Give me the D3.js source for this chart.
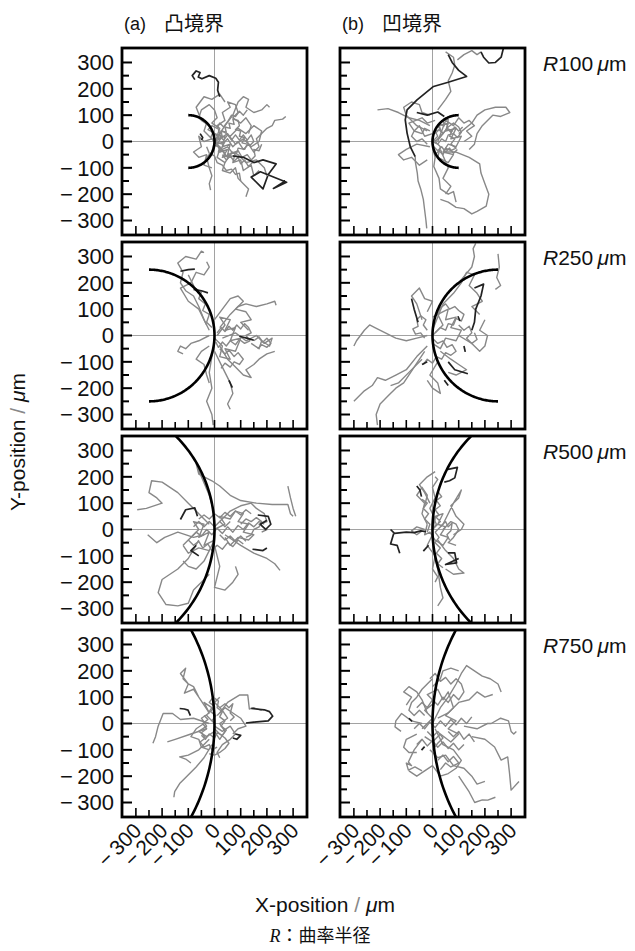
<!DOCTYPE html>
<html>
<head>
<meta charset="utf-8">
<script src="https://cdn.jsdelivr.net/npm/d3@7"></script>
<style>
  body { margin: 0; background: #fff; }
  svg { display: block; }
  text { font-family: "Liberation Sans", Arial, sans-serif; fill: #111; }
  .jp { font-family: "Noto Sans CJK JP", sans-serif; }
</style>
</head>
<body>
<div id="chart"></div>
<script>
// curvature radius of each row (um) and the two boundary types
const radii = [100, 250, 500, 750];
const columnLetters = ["(a)", "(b)"];
const columnNames = ["凸境界", "凹境界"];
const tickValues = [-300, -250, -200, -150, -100, -50, 0, 50, 100, 150, 200, 250, 300];
const labelValues = [-300, -200, -100, 0, 100, 200, 300];

// cell tracks, flat lists of x,y pairs in um
const a100Gray = [
  [0,0, 20,30, 10,60, 40,80, 30,110, 60,130, 50,150, 80,140, 90,110, 70,90, 100,70, 120,90, 140,60, 130,30],
  [0,0, -20,20, -40,40, -30,70, -60,90, -50,120, -20,140, 0,120, 10,90, -10,70, 20,50, 10,20],
  [0,0, 30,-10, 50,10, 70,-20, 90,0, 110,-30, 130,-10, 150,-40, 170,-20, 160,10, 180,30, 200,50, 220,60, 230,80, 260,85, 272,95],
  [0,0, 20,-30, 10,-60, 40,-80, 30,-110, 60,-120, 80,-100, 90,-140, 110,-160, 130,-180, 120,-210],
  [0,0, -10,-40, -30,-60, -20,-100, -10,-130, -20,-160, -15,-185],
  [10,10, 40,20, 30,-20, 60,-10, 50,-50, 80,-40, 70,-80, 100,-70, 110,-110, 140,-90, 150,-130, 170,-110],
  [0,0, 30,40, 60,20, 90,50, 120,30, 150,60, 180,40, 170,0, 140,-20, 110,10, 80,-10, 50,30, 20,10],
  [0,0, 20,10, 0,30, 30,20, 10,-10, 40,0, 20,-40, 50,-30, 30,-60, 60,-50, 40,-80],
  [-10,10, -40,0, -60,20, -50,-20, -80,-40, -60,-60, -30,-50, -40,-90, -10,-100],
  [0,0, 40,60, 70,100, 90,150, 110,170, 130,160, 120,130, 150,110, 180,120, 200,140, 210,130],
  [0,0, 50,-60, 90,-50, 120,-80, 160,-70, 190,-100, 200,-130],
  [-20,60, -50,80, -70,130, -40,170, -10,160, 20,180, 40,150],
  [5,5, 15,25, 30,15, 25,40, 45,35, 40,55, 60,50, 55,70, 75,65, 70,85, 90,80, 95,60, 80,45, 100,40, 95,20, 115,15, 105,-5, 125,-10, 115,-30, 90,-25, 85,-45, 65,-40, 60,-60, 40,-55, 35,-35, 15,-40, 20,-20, 0,-15],
  [0,0, -15,15, -5,35, -25,45, -10,60, 10,50, 20,70, 35,55, 50,75, 65,100, 80,95, 95,115, 110,100, 125,120],
  [10,-10, 30,-30, 50,-20, 70,-45, 90,-35, 105,-60, 125,-50, 140,-70, 155,-55, 150,-30, 170,-35, 180,-10],
  [-30,-20, -20,-45, 0,-55, 10,-80, 30,-90, 45,-110, 65,-105, 80,-125, 95,-120, 100,-150],
  [20,20, 35,5, 50,25, 65,5, 80,25, 95,5, 110,25, 125,5, 140,25, 150,0, 135,-15, 120,5],
  [30,-50, 45,-70, 60,-55, 75,-75, 90,-60, 100,-85, 115,-70, 130,-95, 145,-80]
];
const a100Dark = [
  [-75,235, -85,250, -70,268, -55,262, -62,245, -48,238, -20,250, 5,240, 15,225, 12,195, 20,170],
  [70,-55, 110,-60, 150,-80, 185,-70, 235,-85, 205,-125, 185,-180, 140,-135, 175,-115, 275,-155, 225,-178, 270,-150],
  [-55,30, -45,15, -50,5]
];

const b100Gray = [
  [10,0, 40,30, 20,60, 60,70, 50,40, 90,50, 70,10, 110,20, 90,-20, 60,-10, 40,-40, 80,-50, 60,-80, 20,-60, 30,-20, 0,10],
  [20,0, 50,80, 80,60, 100,90, 120,70, 140,80, 160,60, 130,40, 150,20, 120,0],
  [100,30, 150,70, 170,100, 200,120, 240,130, 280,130, 295,110, 260,95, 230,100, 210,80, 190,60, 170,30, 160,-10, 140,-30],
  [40,-40, 90,-40, 140,-60, 180,-85, 185,-120, 200,-160, 215,-200, 205,-245, 170,-265, 150,-275, 120,-255, 90,-250, 60,-230, 30,-220],
  [0,-20, 10,-60, 5,-95, 25,-140, 30,-180, 60,-200, 80,-190, 90,-230],
  [-66,-57, -65,-80, -58,-120, -55,-150, -45,-180, -35,-220, -30,-260, -25,-300, -22,-330],
  [-10,60, -50,80, -90,90, -130,110, -170,125, -210,120],
  [-20,40, -60,60, -100,100, -110,130, -80,150, -50,140, -40,110, -10,100],
  [20,120, 50,160, 70,190, 60,230, 75,260, 85,290, 80,320, 50,340],
  [185,340, 170,330, 150,345, 120,330, 95,310],
  [-10,-20, -60,-10, -100,-30, -130,-50, -110,-70, -80,-60, -50,-90, -20,-70],
  [0,30, -30,20, -50,60, -70,40, -90,70, -40,90, -20,70, 10,80],
  [30,-30, 60,-100, 40,-140, 70,-170, 50,-200],
  [5,5, 20,20, 10,40, 30,45, 25,65, 45,60, 40,80, 60,85, 55,50, 75,40, 65,20, 85,10, 70,-10, 90,-25, 70,-35, 50,-25, 40,-50, 25,-35, 10,-50],
  [0,0, 20,-10, 35,10, 50,0, 60,25, 80,30, 95,15, 110,35, 100,55, 80,70, 60,55, 40,30, 25,10],
  [-20,-10, -40,10, -60,0, -80,20, -70,40, -40,30, -30,50, -10,40],
  [10,30, 25,45, 40,30, 55,50, 70,35, 85,55, 100,40, 115,55],
  [5,-20, 20,-35, 35,-20, 50,-40, 65,-25, 80,-45, 95,-30]
];
const b100Dark = [
  [272,360, 262,320, 240,300, 215,298, 195,320, 185,340],
  [60,330, 75,300, 100,270, 130,247, 60,225, 4,209, -59,158, -97,120, -104,82, -97,32, -85,-19, -66,-57],
  [-60,110, -20,100, 20,112, 45,95]
];

const a250Gray = [
  [-20,20, -40,60, -60,110, -80,150, -110,170, -130,200, -120,240, -140,275, -110,300, -70,290, -50,320, -40,315],
  [-30,40, -60,100, -100,130, -130,180, -90,200, -70,240, -40,230, -20,260, -30,280],
  [20,30, 60,80, 90,110, 120,120, 160,110, 200,120, 230,130, 235,115],
  [30,-10, 80,10, 120,-20, 160,0, 190,-30, 220,-10, 210,-40, 180,-20, 170,-50, 140,-30],
  [0,-20, -10,-80, -20,-140, -10,-200, -30,-250, -10,-300, -5,-340],
  [20,-40, 50,-90, 80,-120, 110,-150, 140,-160, 120,-130, 150,-110, 170,-90, 200,-70, 230,-60],
  [-20,0, -60,-20, -90,-30, -110,-50, -130,-40, -140,-60, -120,-70],
  [10,0, 40,40, 20,70, 60,60, 40,20, 80,30, 60,-20, 100,-10, 80,-60, 40,-50, 60,-90, 20,-80, 30,-40, 0,-10],
  [0,60, 30,100, 60,140, 90,150, 110,130, 80,100, 120,90, 140,60, 100,50, 130,20],
  [0,-60, 40,-140, 60,-180, 70,-220, 50,-260, 60,-280],
  [-20,-40, -50,-60, -70,-90, -40,-110, -30,-150, -20,-180],
  [10,10, 25,30, 40,15, 55,35, 70,20, 85,40, 100,25, 115,45, 130,30, 140,10, 120,0, 135,-20, 115,-30, 95,-15, 80,-35, 60,-20, 45,-40, 30,-25, 15,-45, 5,-25],
  [20,-50, 40,-70, 55,-55, 75,-80, 90,-65, 110,-90, 95,-110, 75,-100, 60,-120, 40,-105, 25,-125],
  [-10,30, -30,50, -20,80, -45,95, -35,120, -60,140, -50,165, -75,180, -90,210, -100,230],
  [150,-20, 170,-5, 185,-25, 200,-10, 215,-30, 200,-45, 180,-35, 165,-50]
];
const a250Dark = [
  [-130,244, -100,250, -75,252],
  [-80,175, -50,170, -25,162],
  [95,-3, 130,-12, 150,-18],
  [55,-170, 68,-198]
];

const b250Gray = [
  [-20,0, -60,-10, -100,-20, -140,-10, -180,10, -220,30, -240,40, -260,20, -290,-20, -300,-40],
  [-20,-40, -60,-80, -100,-130, -140,-150, -180,-170, -210,-160, -230,-190, -260,-210, -300,-250],
  [-30,-60, -70,-120, -110,-180, -140,-200, -170,-230, -200,-260, -215,-300, -210,-340],
  [-40,-90, -90,-140, -130,-180, -160,-190],
  [100,200, 150,260, 160,300, 155,330, 165,350],
  [250,310, 255,260, 245,220, 260,190, 240,175],
  [0,0, 40,40, 20,80, 60,100, 50,60, 90,70, 70,30, 110,20, 90,-20, 50,-10, 30,-50, 0,-30],
  [0,20, 40,120, 80,160, 110,200, 130,240, 160,230, 140,190, 170,160, 190,130, 150,110, 180,80],
  [-40,60, -60,120, -80,150, -50,180, -30,140, 0,130, -20,90],
  [0,-40, 20,-100, -10,-150, 20,-180, 30,-220, 0,-200, -20,-170],
  [100,0, 150,-30, 180,-60, 200,-40, 210,0, 180,20, 200,60],
  [30,-60, 70,-90, 100,-110, 130,-130, 90,-150, 60,-140],
  [10,10, 30,30, 50,20, 60,45, 80,40, 90,65, 110,55, 120,80, 100,95, 85,110, 65,100, 50,120, 30,105, 20,80, 0,70],
  [0,-10, 20,-30, 40,-20, 55,-45, 75,-35, 90,-60, 70,-75, 50,-65, 35,-90, 15,-80, 0,-105, -20,-90, -35,-110],
  [-20,20, -35,40, -25,60, -45,75, -60,60, -55,35, -75,25, -65,5, -45,10, -30,-10],
  [100,40, 120,20, 140,35, 150,10, 130,-10, 150,-30, 170,-15, 160,10]
];
const b250Dark = [
  [-80,140, -70,100, -55,50],
  [160,180, 195,195, 185,150, 165,100, 160,50, 150,20],
  [97,73, 105,55],
  [120,-40, 125,-62],
  [60,-100, 85,-130, 135,-145],
  [-40,-110, -20,-100],
  [45,-170, 60,-190]
];

const a500Gray = [
  [-20,20, -60,60, -100,100, -140,140, -200,180, -240,185, -250,140, -220,120, -200,100, -260,80, -295,75],
  [0,60, -20,130, -50,200, -70,250, -60,210, -10,185, 20,165, 60,130, 100,110, 160,100, 220,95, 280,95, 290,60, 300,50],
  [280,165, 290,120, 300,80, 310,50],
  [-40,-20, -80,-30, -140,-10, -190,-30, -220,-50, -255,-20],
  [-60,-40, -100,-110, -140,-150, -200,-190, -215,-240, -185,-285, -140,-290, -100,-280, -80,-230, -50,-200, -20,-170],
  [0,-60, 20,-140, 0,-220, 40,-230, 70,-200, 90,-170, 80,-140],
  [40,-20, 100,-60, 150,-90, 200,-110, 230,-130, 250,-155],
  [-100,-40, -60,0, -80,30, -40,20, -60,-30, -20,-10, -40,-60, 0,-40, -20,-80, -60,-70, -100,-90, -120,-60],
  [0,0, 40,20, 20,50, 60,40, 80,70, 110,60, 90,30, 130,20, 110,-10, 150,-20, 130,-40, 90,-30, 60,-60, 40,-30],
  [20,30, 60,70, 100,90, 140,100, 160,80, 190,60, 200,30, 170,20, 200,0, 180,-10],
  [-20,-80, -40,-120, -70,-150, -100,-140, -120,-120],
  [-90,-30, -70,-10, -50,-25, -30,0, -10,-20, 10,5, 30,-15, 50,10, 70,-10, 90,15, 110,0, 130,25, 150,10, 170,30, 190,20],
  [-120,-60, -100,-40, -80,-60, -60,-45, -45,-70, -25,-55, -10,-80, 10,-60, 30,-75, 50,-50, 70,-65, 90,-40, 110,-55],
  [-60,40, -40,55, -20,40, 0,60, 20,45, 40,65, 60,50, 80,70, 100,55, 120,75, 140,60],
  [100,20, 120,40, 140,30, 160,45, 180,30, 170,10, 150,0, 140,-20, 120,-30],
  [-80,10, -60,30, -40,10, -20,30, 0,10, 20,30, 40,10, 60,30],
  [20,-20, 40,-40, 60,-25, 80,-45, 100,-25, 120,-45]
];
const a500Dark = [
  [-130,38, -110,75, -75,82, -65,50],
  [165,55, 205,50, 215,20, 195,0, 175,20, 200,35],
  [145,-75, 185,-80, 200,-70],
  [-70,-60, -90,-80, -60,-100]
];

const b500Gray = [
  [0,0, 10,40, -10,80, 10,120, 0,160, 20,190, 10,200],
  [-20,20, -40,60, -30,100, -60,130, -40,160, -20,130, -30,90],
  [10,-10, 40,20, 60,60, 80,100, 110,150, 100,120, 70,90, 90,50, 120,20, 110,0, 80,-20],
  [0,-20, -20,-60, 10,-100, 0,-150, 20,-180, 10,-200],
  [20,-40, 50,-80, 80,-110, 100,-150, 120,-165, 80,-170, 50,-150],
  [0,-60, 20,-150, 30,-220, 40,-260, 20,-290],
  [0,0, 30,30, 10,50, 40,60, 20,20, 50,10, 30,-20, 60,-30, 40,-60, 10,-40, -10,-10, -30,-20, -20,20],
  [-30,0, -60,10, -80,-5, -60,-20, -40,-5],
  [40,0, 70,30, 90,20, 100,0, 80,-30, 60,-50, 90,-60],
  [-10,100, -30,140, -50,170, -20,200, 10,220],
  [0,0, 15,20, 5,40, 25,55, 10,75, 30,90, 15,110, 35,125, 20,145],
  [10,-10, 25,-30, 10,-50, 30,-70, 15,-90, 35,-110, 20,-130, 40,-145],
  [-20,-10, -10,20, -30,40, -15,60, -35,80, -20,100, -40,115],
  [30,10, 50,30, 60,10, 75,25, 70,-5, 55,-20, 65,-40]
];
const b500Dark = [
  [-160,0, -145,-15, -100,-10, -70,-12, -45,-5, -25,-8],
  [-148,-15, -160,-55, -135,-60, -125,-90],
  [59,228, 95,236, 85,196, 65,185, 45,180],
  [-60,165, -48,150, -42,125],
  [59,-89, 85,-89, 92,-127, 50,-133, 100,-110],
  [-35,-82, -15,-60]
];

const a750Gray = [
  [-20,40, -60,100, -80,140, -100,150, -120,170, -110,210, -130,190, -100,150, -115,115, -80,130, -60,100],
  [20,40, 50,80, 95,108, 127,108, 133,55, 148,60, 180,50],
  [-20,0, -80,20, -130,15, -160,38, -196,38, -215,-10, -225,-50, -235,-75],
  [-30,-20, -90,-40, -150,-60, -180,-70],
  [-20,-60, -60,-100, -100,-120, -133,-127, -110,-135, -90,-150],
  [-10,-80, -40,-130, -70,-165, -108,-203, -133,-228, -152,-259, -155,-280],
  [0,0, -30,30, -10,60, -40,80, -20,40, -50,20, -30,-10, -60,-30, -30,-50, 0,-30, 20,-60, 40,-30, 20,0, 50,20, 30,50, 0,80, 20,100],
  [0,-10, 30,-30, 60,-10, 80,-40, 60,-60, 30,-80, 10,-110, 20,-130],
  [-40,0, -70,-20, -90,-50, -60,-60, -50,-90, -20,-100],
  [10,30, 40,60, 70,40, 100,20, 120,-10, 90,-20, 70,-40],
  [-10,10, 5,30, -15,45, 0,65, -20,80, -5,100, 15,85, 10,60, 30,45, 20,25, 40,10, 25,-10, 45,-25, 30,-45, 10,-35, 0,-55, -20,-40, -35,-60, -50,-45],
  [-40,30, -25,15, -45,0, -30,-20, -50,-35, -35,-55, -55,-70, -40,-90, -20,-80, -10,-100, 10,-90],
  [20,60, 40,75, 55,60, 70,75, 60,40, 75,25, 60,10],
  [0,-20, 20,-40, 40,-55, 55,-75, 40,-95, 20,-110, 0,-120, -20,-115]
];
const a750Dark = [
  [140,57, 190,52, 210,45, 222,28, 205,10, 150,5, 120,2],
  [-133,57, -115,55, -101,51, -92,30],
  [80,-40, 100,-45, 85,-60, 70,-55]
];

const b750Gray = [
  [0,0, 30,60, 60,100, 90,150, 110,190, 130,220, 160,200, 190,180, 220,170, 250,150, 262,120],
  [-20,40, -40,90, -60,120, -90,140, -110,120, -80,100, -100,70],
  [20,20, 60,40, 100,80, 140,90, 170,120, 200,100, 230,110],
  [-40,-20, 0,20, -30,50, 10,80, -20,110, 20,130, 40,90, 60,120, 80,60, 50,30, 90,10, 60,-20, 100,-40, 70,-70, 30,-40, 0,-70, -30,-50],
  [10,-20, 40,-80, 80,-100, 110,-140, 90,-170, 60,-190, 30,-200, 0,-160, -30,-180, -60,-200, -90,-180],
  [120,-10, 170,-20, 210,0, 224,0, 260,20, 290,10, 300,-30, 310,-40, 320,-30],
  [150,-50, 200,-60, 237,-89, 262,-139, 287,-127, 294,-190, 300,-253, 330,-220],
  [100,-200, 140,-260, 161,-300, 190,-290, 211,-291, 240,-280],
  [-40,0, -80,10, -118,38, -140,10, -143,-13, -120,-30],
  [-40,-60, -70,-100, -92,-146, -80,-160, -100,-150, -92,-177, -67,-165, -40,-180],
  [-60,-40, -100,-60, -110,-90, -90,-110, -60,-110],
  [0,140, 30,170, 40,200, 70,210, 100,200],
  [-10,-100, 20,-130, 50,-120, 80,-160, 120,-170, 150,-200, 170,-230, 200,-220],
  [-60,60, -40,80, -20,60, 0,90, 20,70, 40,100, 60,80, 80,110, 100,90, 120,120, 110,150, 90,170, 70,150, 50,175, 30,160, 10,190, -10,170],
  [-70,-20, -50,0, -30,-20, -10,5, 10,-15, 30,10, 50,-10, 70,15, 90,-5, 110,20, 130,0, 150,25],
  [-60,-80, -40,-60, -20,-85, 0,-65, 20,-90, 40,-70, 60,-95, 80,-75, 100,-100, 120,-80],
  [-30,30, -50,50, -70,30, -90,50, -80,80, -60,100, -40,130, -20,150, 0,170],
  [20,-140, 40,-120, 60,-145, 80,-125, 100,-150, 70,-165, 50,-150, 30,-175],
  [60,-30, 80,-50, 100,-30, 120,-60, 140,-40, 160,-70],
  [-20,-30, 0,-50, 20,-30, 40,-55, 20,-75, 0,-100]
];
const b750Dark = [
  [-42,-101, -30,-88],
  [-90,20, -78,8]
];

const panelTracks = [
  [[a100Gray, a100Dark], [b100Gray, b100Dark]],
  [[a250Gray, a250Dark], [b250Gray, b250Dark]],
  [[a500Gray, a500Dark], [b500Gray, b500Dark]],
  [[a750Gray, a750Dark], [b750Gray, b750Dark]]
];

const width = 635, height = 951;
const colLeft = [122, 340];
const rowTop = [48, 242, 436, 630];
const pw = 185, ph = 187;

const x = d3.scaleLinear().domain([-353, 353]).range([0, pw]);
const y = d3.scaleLinear().domain([-355, 355]).range([ph, 0]);

const fmt = d => d < 0 ? "\u2212\u2009" + Math.abs(d) : String(d);

const pairs = flat => d3.range(0, flat.length, 2).map(i => [flat[i], flat[i + 1]]);
const line = d3.line().x(d => x(d[0])).y(d => y(d[1]));

const svg = d3.select("#chart").append("svg")
  .attr("width", width)
  .attr("height", height);

radii.forEach((R, ri) => {
  [0, 1].forEach(ci => {
    const g = svg.append("g")
      .attr("transform", `translate(${colLeft[ci]},${rowTop[ri]})`);
    const clipId = `clip-${ri}-${ci}`;
    g.append("clipPath").attr("id", clipId)
      .append("rect").attr("width", pw).attr("height", ph);

    const inner = g.append("g").attr("clip-path", `url(#${clipId})`);

    // crosshair through the origin
    inner.append("line")
      .attr("x1", x(0)).attr("x2", x(0)).attr("y1", 0).attr("y2", ph)
      .attr("stroke", "#8a8a8a").attr("stroke-width", 0.8);
    inner.append("line")
      .attr("x1", 0).attr("x2", pw).attr("y1", y(0)).attr("y2", y(0))
      .attr("stroke", "#8a8a8a").attr("stroke-width", 0.8);

    const [gray, dark] = panelTracks[ri][ci];
    inner.selectAll(".gtrack")
      .data(gray.map(pairs))
      .join("path")
      .attr("class", "gtrack")
      .attr("d", line)
      .attr("fill", "none")
      .attr("stroke", "#888")
      .attr("stroke-width", 1.4)
      .attr("stroke-linejoin", "round");
    inner.selectAll(".dtrack")
      .data(dark.map(pairs))
      .join("path")
      .attr("class", "dtrack")
      .attr("d", line)
      .attr("fill", "none")
      .attr("stroke", "#222")
      .attr("stroke-width", 1.7)
      .attr("stroke-linejoin", "round");

    // boundary: circle of radius R, centre at (-R,0) for convex, (R,0) for concave
    const sign = ci === 0 ? -1 : 1;
    const angles = d3.range(-90, 90.5, 1).map(a => a * Math.PI / 180);
    const arcPts = angles.map(t => [sign * R - sign * R * Math.cos(t), R * Math.sin(t)]);
    inner.append("path")
      .attr("d", line(arcPts))
      .attr("fill", "none")
      .attr("stroke", "#000")
      .attr("stroke-width", 2.6);

    // ticks on left and bottom, pointing inward
    g.selectAll(".ytick").data(tickValues).join("line")
      .attr("x1", 0).attr("x2", d => d % 100 === 0 ? 10 : 7)
      .attr("y1", d => y(d)).attr("y2", d => y(d))
      .attr("stroke", "#000").attr("stroke-width", 2);
    g.selectAll(".xtick").data(tickValues).join("line")
      .attr("y1", ph).attr("y2", d => ph - (d % 100 === 0 ? 9 : 7))
      .attr("x1", d => x(d)).attr("x2", d => x(d))
      .attr("stroke", "#000").attr("stroke-width", 1.6);

    g.append("rect")
      .attr("width", pw).attr("height", ph)
      .attr("fill", "none").attr("stroke", "#000").attr("stroke-width", 2.8);

    if (ci === 0) {
      g.selectAll(".ylab").data(labelValues).join("text")
        .attr("x", -8).attr("y", d => y(d))
        .attr("dy", "0.36em")
        .attr("text-anchor", "end")
        .attr("font-size", 22)
        .text(fmt);
    }
    if (ri === radii.length - 1) {
      g.selectAll(".xlab").data(labelValues).join("text")
        .attr("text-anchor", "end")
        .attr("font-size", 21)
        .attr("transform", d => `translate(${x(d) + 7},${ph + 15}) rotate(-45)`)
        .text(fmt);
    }
    if (ci === 1) {
      const t = svg.append("text")
        .attr("x", colLeft[1] + pw + 18)
        .attr("y", rowTop[ri] + 23)
        .attr("font-size", 21);
      t.append("tspan").attr("font-style", "italic").text("R");
      t.append("tspan").text(R + "\u2009");
      t.append("tspan").attr("font-style", "italic").text("μ");
      t.append("tspan").text("m");
    }
  });
});

// column headers
columnLetters.forEach((lab, i) => {
  svg.append("text").attr("x", colLeft[i] + 2).attr("y", 30)
    .attr("font-size", 18).text(lab);
  svg.append("text").attr("class", "jp").attr("x", colLeft[i] + 42).attr("y", 31)
    .attr("font-size", 20).text(columnNames[i]);
});

// axis titles
const xt = svg.append("text")
  .attr("x", 325).attr("y", 912)
  .attr("text-anchor", "middle").attr("font-size", 21);
xt.append("tspan").text("X-position ");
xt.append("tspan").attr("fill", "#888").text("/ ");
xt.append("tspan").attr("font-style", "italic").text("μ");
xt.append("tspan").text("m");

const yt = svg.append("text")
  .attr("transform", "translate(25,442) rotate(-90)")
  .attr("text-anchor", "middle").attr("font-size", 21);
yt.append("tspan").text("Y-position ");
yt.append("tspan").attr("fill", "#888").text("/ ");
yt.append("tspan").attr("font-style", "italic").text("μ");
yt.append("tspan").text("m");

const rt = svg.append("text")
  .attr("x", 320).attr("y", 942)
  .attr("text-anchor", "middle").attr("font-size", 18);
rt.append("tspan").attr("font-family", "Liberation Serif, serif").attr("font-style", "italic").text("R");
rt.append("tspan").attr("class", "jp").text("：曲率半径");
</script>
</body>
</html>
